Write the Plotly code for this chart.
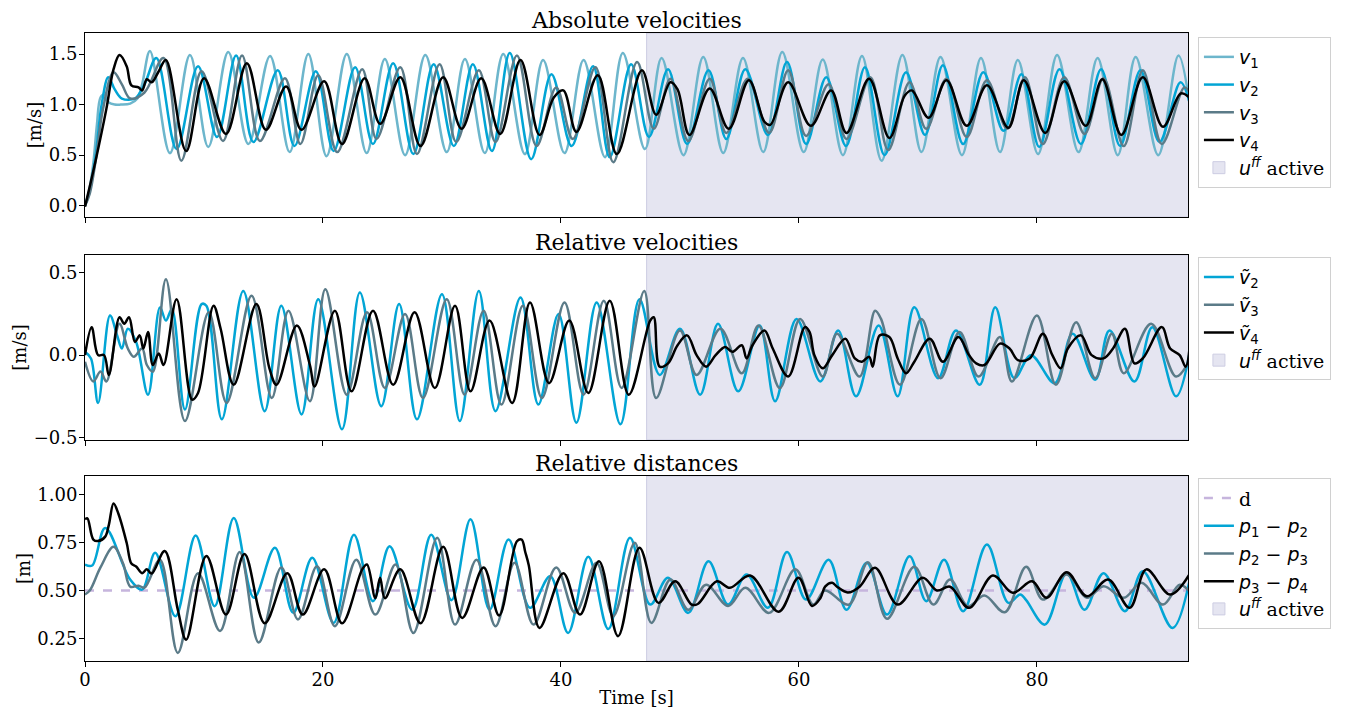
import plotly.graph_objects as go

# ---------------- data ----------------
FF_START = 47.2          # time at which u^ff becomes active [s]
T_END = 92.7             # end of the recorded time span [s]
X_TICKS = [0, 20, 40, 60, 80]

TITLES = ["Absolute velocities", "Relative velocities", "Relative distances"]
Y_LABELS = ["[m/s]", "[m/s]", "[m]"]

# Absolute velocities (t [s], v [m/s]) – turning points
V1 = [(0, 0.0), (0.35, 0.15), (0.7, 0.42), (1.0, 0.8), (1.3, 1.07), (1.6, 1.1), (2.0, 1.02), (2.5, 1.0),
      (3.0, 1.0), (3.8, 1.01), (4.4, 1.06), (4.8, 1.2), (5.46, 1.53),
      (7.14, 0.52), (8.82, 1.49), (10.36, 0.58), (12.04, 1.52), (13.73, 0.61), (15.55, 1.48), (17.2, 0.53),
      (18.77, 1.5), (20.3, 0.49), (22.0, 1.5), (23.67, 0.52), (25.2, 1.45), (26.9, 0.50), (28.6, 1.49),
      (30.4, 0.53), (31.93, 1.45), (33.6, 0.52), (35.15, 1.5), (36.97, 0.51), (38.5, 1.44), (40.3, 0.52),
      (41.9, 1.44), (43.7, 0.48), (45.2, 1.51), (47.06, 0.56), (48.46, 1.46), (50.3, 0.50), (51.96, 1.47),
      (53.64, 0.52), (55.3, 1.46), (57.0, 0.53), (58.6, 1.52), (60.4, 0.53), (62.0, 1.445), (63.7, 0.50),
      (65.3, 1.48), (66.95, 0.445), (68.7, 1.49), (70.3, 0.53), (71.9, 1.47), (73.7, 0.50), (75.3, 1.46),
      (76.9, 0.53), (78.4, 1.44), (80.1, 0.51), (81.7, 1.49), (83.5, 0.53), (85.1, 1.46), (86.8, 0.50),
      (88.3, 1.47), (90.2, 0.50), (91.9, 1.485), (92.9, 0.95)]
V2 = [(0, 0.0), (0.4, 0.15), (0.9, 0.5), (1.4, 1.0), (1.96, 1.27), (2.5, 1.15), (3.1, 1.06), (4.2, 1.06),
      (5.0, 1.2), (6.0, 1.46), (7.7, 0.56), (9.5, 1.38),
      (11.1, 0.68), (12.7, 1.485), (14.15, 0.63), (16.2, 1.34), (17.6, 0.59), (19.4, 1.33), (20.9, 0.54),
      (22.7, 1.37), (24.2, 0.61), (25.9, 1.41), (27.6, 0.51), (29.3, 1.40), (31.0, 0.59), (32.6, 1.40),
      (34.2, 0.54), (35.7, 1.51), (37.5, 0.46), (39.2, 1.30), (40.9, 0.59), (42.7, 1.38), (44.1, 0.48),
      (45.9, 1.40), (47.4, 0.68), (49.0, 1.35), (50.6, 0.61), (52.4, 1.34), (53.9, 0.66), (55.5, 1.35),
      (57.4, 0.70), (59.0, 1.42), (60.6, 0.61), (62.3, 1.27), (63.96, 0.59), (65.55, 1.37), (67.2, 0.50),
      (69.0, 1.32), (70.6, 0.70), (72.1, 1.39), (73.8, 0.61), (75.5, 1.32), (77.2, 0.74), (78.7, 1.30),
      (80.2, 0.58), (81.9, 1.35), (83.7, 0.61), (85.4, 1.35), (87.0, 0.59), (88.7, 1.34), (90.3, 0.63),
      (92.07, 1.22), (92.9, 0.99)]
V3 = [(0, 0.0), (0.4, 0.12), (0.9, 0.45), (1.5, 0.95), (2.4, 1.32), (3.1, 1.2), (3.8, 1.06), (5.0, 1.12),
      (6.6, 1.46), (8.1, 0.445), (9.8, 1.33),
      (11.6, 0.64), (13.2, 1.485), (14.7, 0.64), (16.8, 1.26), (18.1, 0.61), (19.6, 1.29), (21.2, 0.53),
      (23.3, 1.35), (24.5, 0.66), (26.5, 1.37), (27.9, 0.51), (29.8, 1.40), (31.2, 0.63), (33.1, 1.34),
      (34.5, 0.63), (36.3, 1.485), (37.95, 0.59), (39.6, 1.17), (41.0, 0.66), (42.9, 1.37), (44.4, 0.43),
      (46.4, 1.42), (47.8, 0.76), (49.2, 1.255), (50.7, 0.64), (52.5, 1.255), (53.9, 0.72), (55.7, 1.255),
      (57.5, 0.72), (59.1, 1.34), (60.6, 0.69), (62.5, 1.20), (64.0, 0.66), (66.0, 1.27), (67.5, 0.55),
      (69.3, 1.22), (70.7, 0.76), (72.4, 1.255), (74.1, 0.68), (75.8, 1.24), (77.5, 0.76), (79.0, 1.27),
      (80.5, 0.61), (82.3, 1.27), (84.0, 0.71), (85.6, 1.26), (87.3, 0.59), (88.9, 1.34), (90.5, 0.61),
      (92.4, 1.17), (92.9, 1.1)]
V4 = [(0, -0.01), (0.9, 0.45), (1.8, 0.96), (2.4, 1.35), (2.9, 1.49), (3.5, 1.38), (3.9, 1.19), (4.5, 1.17),
      (4.8, 1.14), (5.2, 1.25), (5.6, 1.22), (6.2, 1.33), (6.8, 1.44), (8.5, 0.54), (10.0, 1.26), (11.85, 0.71),
      (13.6, 1.41), (15.2, 0.75), (16.9, 1.18), (18.2, 0.75), (20.1, 1.23), (21.6, 0.61), (23.5, 1.26),
      (24.8, 0.81), (26.5, 1.27), (28.2, 0.59), (30.1, 1.27), (31.65, 0.76), (33.3, 1.26), (34.9, 0.71),
      (36.6, 1.44), (38.2, 0.70), (39.4, 1.07), (40.2, 1.14), (41.3, 0.73), (43.1, 1.29), (44.7, 0.51),
      (46.8, 1.34), (48.0, 0.90), (49.2, 1.22), (49.8, 1.15), (50.8, 0.70), (52.5, 1.16), (54.1, 0.76),
      (55.8, 1.24), (57.1, 0.83), (57.6, 0.80), (59.1, 1.22), (61.0, 0.79), (62.7, 1.14), (64.0, 0.72),
      (65.9, 1.255), (67.6, 0.67), (68.9, 1.09), (69.5, 1.14), (70.9, 0.87), (72.4, 1.24), (74.1, 0.79),
      (75.8, 1.19), (77.6, 0.77), (78.9, 1.24), (80.7, 0.72), (82.3, 1.23), (84.1, 0.79), (85.5, 1.25),
      (87.1, 0.70), (88.9, 1.27), (90.6, 0.78), (92.1, 1.11), (92.9, 1.06)]

# Relative velocities (t [s], v~ [m/s])
VT2 = [(0, 0.02), (0.5, -0.02), (1.1, -0.29), (2.1, 0.24), (2.7, 0.12), (3.1, 0.04), (3.6, 0.16), (4.3, 0.08),
       (5.3, -0.24), (6.3, 0.29), (6.8, 0.21), (7.3, 0.28), (8.4, -0.33), (9.8, 0.31), (10.2, 0.30),
       (11.5, -0.39), (13.3, 0.39), (15.1, -0.34), (16.5, 0.30), (18.2, -0.36), (19.6, 0.34), (21.6, -0.45),
       (23.1, 0.38), (24.9, -0.31), (26.4, 0.31), (27.9, -0.39), (30.0, 0.37), (31.5, -0.40), (33.1, 0.39),
       (34.5, -0.34), (36.6, 0.35), (38.1, -0.30), (39.8, 0.25), (41.3, -0.41), (43.0, 0.32), (45.0, -0.42),
       (46.6, 0.34), (48.3, -0.12), (50.0, 0.16), (51.7, -0.24), (53.2, 0.19), (54.9, -0.22), (56.7, 0.18),
       (58.0, -0.28), (59.8, 0.22), (61.8, -0.16), (63.3, 0.15), (64.8, -0.25), (66.7, 0.18), (68.3, -0.25),
       (69.7, 0.29), (71.7, -0.14), (73.2, 0.15), (75.2, -0.18), (76.5, 0.29), (78.1, -0.14), (79.5, 0.0),
       (81.5, -0.17), (83.0, 0.13), (84.9, -0.15), (86.1, 0.15), (88.2, -0.16), (89.7, 0.17), (91.7, -0.25),
       (92.9, 0.04)]
VT3 = [(0, -0.04), (0.7, -0.16), (1.3, -0.10), (1.8, -0.16), (2.9, 0.19), (3.6, 0.04), (4.1, -0.01),
       (4.8, 0.04), (5.2, -0.06), (5.7, -0.10), (6.8, 0.46), (8.4, -0.40), (10.4, 0.26), (11.9, -0.29),
       (14.0, 0.36), (15.7, -0.26), (17.1, 0.27), (18.9, -0.28), (20.2, 0.40), (22.0, -0.24), (23.7, 0.26),
       (25.2, -0.20), (26.9, 0.25), (28.4, -0.26), (30.4, 0.34), (31.9, -0.24), (33.5, 0.27), (35.0, -0.30),
       (36.8, 0.30), (38.4, -0.26), (40.3, 0.32), (41.9, -0.24), (43.6, 0.33), (45.1, -0.20), (47.0, 0.39),
       (48.0, -0.26), (50.0, 0.15), (51.4, -0.12), (53.4, 0.16), (55.2, -0.11), (56.6, 0.18), (58.4, -0.20),
       (60.1, 0.22), (62.0, -0.13), (63.2, 0.13), (65.1, -0.13), (66.4, 0.27), (66.9, 0.22), (68.5, -0.18),
       (70.3, 0.22), (71.9, -0.14), (73.5, 0.14), (75.1, -0.13), (76.9, 0.11), (77.9, -0.16), (80.0, 0.24),
       (81.6, -0.18), (83.3, 0.20), (84.9, -0.14), (86.3, 0.13), (87.3, -0.11), (89.6, 0.19), (91.7, -0.13),
       (92.9, -0.02)]
VT4 = [(0, 0.0), (0.56, 0.17), (1.1, 0.0), (1.6, 0.0), (2.0, -0.12), (2.9, 0.23), (3.3, 0.19), (3.7, 0.23),
       (4.2, 0.08), (4.6, 0.12), (4.9, 0.04), (5.3, 0.14), (5.7, -0.06), (6.2, 0.01), (6.6, -0.06), (7.7, 0.34),
       (9.0, -0.27), (9.5, -0.23), (10.8, 0.30), (11.4, 0.16), (12.5, -0.18), (14.4, 0.31), (15.5, -0.08),
       (16.1, -0.18), (17.8, 0.18), (18.9, -0.06), (19.3, -0.19), (21.0, 0.27), (22.4, -0.22), (24.2, 0.27),
       (25.9, -0.18), (27.7, 0.26), (29.4, -0.2), (31.1, 0.30), (32.4, -0.22), (34.0, 0.21), (35.9, -0.29),
       (37.4, 0.32), (39.0, -0.17), (40.7, 0.21), (42.3, -0.23), (44.1, 0.33), (45.7, -0.24), (47.5, 0.21),
       (47.8, 0.23), (48.3, -0.07), (49.0, -0.05), (49.8, 0.06), (50.6, 0.12), (51.4, 0.0), (52.2, -0.07),
       (53.0, 0.0), (53.8, 0.05), (54.4, 0.02), (55.2, 0.06), (55.6, -0.02), (56.1, 0.06), (57.1, 0.15),
       (57.8, 0.04), (59.1, -0.13), (60.5, 0.17), (60.9, 0.14), (61.3, 0.0), (62.0, -0.08), (62.8, 0.0),
       (63.9, 0.10), (64.7, -0.02), (65.3, -0.04), (65.9, -0.01), (66.2, -0.07), (66.8, 0.12), (67.6, 0.11),
       (68.3, -0.02), (69.0, -0.11), (69.7, -0.04), (71.0, 0.10), (72.1, -0.04), (73.4, 0.11), (74.3, 0.0),
       (74.9, -0.05), (75.6, -0.06), (76.9, 0.07), (77.7, 0.04), (78.4, -0.03), (79.4, -0.02), (80.5, 0.13),
       (81.3, 0.0), (82.0, -0.08), (82.6, 0.04), (83.7, 0.12), (84.6, 0.0), (85.6, -0.02), (86.4, 0.04),
       (87.4, 0.16), (88.2, -0.05), (88.9, -0.02), (90.5, 0.17), (91.2, 0.04), (92.0, 0.0), (92.5, -0.07),
       (92.9, 0.10)]

# Relative distances (t [s], distance [m])
D_REF = [(0, 0.5), (92.9, 0.5)]
P12 = [(0, 0.635), (0.6, 0.63), (1.7, 0.825), (3.8, 0.557), (4.8, 0.505), (5.9, 0.696), (7.6, 0.367),
       (9.3, 0.786), (10.9, 0.419), (12.5, 0.877), (14.2, 0.462), (15.96, 0.722), (17.5, 0.384), (19.1, 0.67),
       (20.9, 0.332), (22.6, 0.79), (24.2, 0.445), (25.6, 0.73), (27.5, 0.40), (29.1, 0.79), (30.8, 0.45),
       (32.4, 0.87), (34.0, 0.40), (35.6, 0.765), (37.4, 0.41), (39.1, 0.574), (40.6, 0.28), (42.3, 0.675),
       (43.98, 0.30), (45.8, 0.774), (47.5, 0.427), (49.0, 0.566), (50.7, 0.384), (52.4, 0.652),
       (54.05, 0.427), (55.6, 0.583), (57.4, 0.41), (59.0, 0.70), (60.6, 0.453), (62.5, 0.66), (64.0, 0.40),
       (65.7, 0.644), (67.4, 0.375), (69.3, 0.678), (70.7, 0.445), (72.2, 0.66), (73.8, 0.393), (75.8, 0.739),
       (77.6, 0.436), (78.6, 0.48), (79.1, 0.45), (80.67, 0.323), (82.5, 0.59), (84.0, 0.40), (85.6, 0.59),
       (87.4, 0.393), (88.9, 0.60), (91.4, 0.306), (92.9, 0.574)]
P23 = [(0, 0.48), (0.4, 0.50), (1.3, 0.62), (2.4, 0.727), (3.2, 0.64), (3.8, 0.52), (4.5, 0.525), (5.0, 0.515),
       (6.3, 0.66), (7.8, 0.176), (9.5, 0.59), (11.35, 0.29), (13.0, 0.70), (14.6, 0.23), (16.5, 0.62),
       (17.9, 0.35), (19.5, 0.626), (21.0, 0.315), (22.8, 0.66), (24.4, 0.375), (26.1, 0.635), (27.6, 0.28),
       (29.6, 0.774), (31.1, 0.323), (32.9, 0.66), (34.5, 0.315), (36.1, 0.644), (37.7, 0.323), (39.6, 0.62),
       (41.2, 0.384), (42.99, 0.644), (44.4, 0.367), (46.2, 0.748), (47.6, 0.332), (49.2, 0.557), (50.7, 0.40),
       (52.2, 0.53), (54.05, 0.42), (55.5, 0.514), (57.5, 0.384), (59.7, 0.61), (61.2, 0.427), (62.2, 0.50),
       (64.2, 0.427), (65.8, 0.647), (67.4, 0.353), (69.7, 0.623), (71.3, 0.427), (72.7, 0.557), (74.2, 0.419),
       (75.6, 0.474), (77.3, 0.387), (79.1, 0.623), (80.5, 0.453), (82.5, 0.583), (84.2, 0.462), (85.6, 0.522),
       (87.3, 0.462), (88.8, 0.54), (90.6, 0.427), (92.0, 0.53), (92.9, 0.49)]
P34 = [(0, 0.87), (0.2, 0.875), (0.7, 0.765), (1.1, 0.757), (1.7, 0.78), (2.0, 0.84), (2.4, 0.952), (2.8, 0.90),
       (3.5, 0.748), (3.9, 0.64), (4.3, 0.625), (4.8, 0.59), (5.2, 0.61), (5.6, 0.588), (6.7, 0.705), (7.8, 0.40),
       (8.5, 0.245), (10.2, 0.68), (11.85, 0.375), (13.4, 0.69), (15.1, 0.33), (17.0, 0.59), (18.3, 0.375),
       (20.1, 0.61), (21.6, 0.33), (23.3, 0.61), (23.7, 0.635), (24.4, 0.46), (24.8, 0.566), (25.2, 0.46),
       (26.5, 0.61), (28.2, 0.33), (30.1, 0.727), (31.7, 0.358), (33.5, 0.62), (34.8, 0.37), (36.3, 0.756),
       (36.7, 0.765), (37.0, 0.70), (37.3, 0.63), (38.2, 0.306), (40.2, 0.59), (41.6, 0.375), (43.2, 0.652),
       (44.8, 0.263), (46.6, 0.722), (48.2, 0.436), (49.6, 0.548), (50.98, 0.427), (51.5, 0.43), (53.1, 0.548),
       (54.2, 0.514), (55.9, 0.578), (58.3, 0.39), (59.97, 0.566), (61.1, 0.42), (61.8, 0.46), (62.2, 0.52),
       (62.8, 0.54), (63.2, 0.52), (64.1, 0.49), (65.1, 0.52), (66.4, 0.618), (68.3, 0.427), (70.4, 0.566),
       (71.6, 0.50), (72.7, 0.52), (74.3, 0.41), (76.3, 0.578), (77.97, 0.488), (79.6, 0.548), (80.8, 0.462),
       (82.5, 0.595), (84.2, 0.47), (85.99, 0.557), (87.8, 0.41), (89.2, 0.61), (91.2, 0.479), (92.9, 0.592)]

# ---------------- styling ----------------
C_V1 = "#6db6cc"
C_V2 = "#02a5d5"
C_V3 = "#5b7b88"
C_V4 = "#000000"
C_D = "#c6b5dd"
C_FF = "#e5e5f1"
C_FF_EDGE = "#cdcde2"
SERIF = "DejaVu Serif, serif"
SANS = "DejaVu Sans"
LW = 2.5

DOMAINS = [[0.707, 1.0], [0.352, 0.6465], [0.0, 0.2946]]
Y_RANGES = [[-0.112, 1.708], [-0.515, 0.608], [0.134, 1.095]]
Y_TICKS = [[0.0, 0.5, 1.0, 1.5], [-0.5, 0.0, 0.5], [0.25, 0.5, 0.75, 1.0]]
Y_FMT = [".1f", ".1f", ".2f"]
LEGEND_Y = [0.9936, 0.643, 0.291]


def mlab(sym, sub=None, sup=None):
    s = f'<span style="font-family:{SANS}"><i>{sym}</i>'
    if sub:
        s += f"<sub>{sub}</sub>"
    if sup:
        s += f"<sup><i>{sup}</i></sup>"
    return s + "</span>"


fig = go.Figure()


def add(pts, row, name, color, legend, rank, dash="solid", width=LW):
    suffix = "" if row == 1 else str(row)
    fig.add_trace(go.Scatter(
        x=[p[0] for p in pts], y=[p[1] for p in pts], mode="lines", name=name,
        line=dict(color=color, width=width, shape="spline", smoothing=1.0, dash=dash),
        xaxis="x" + suffix, yaxis="y" + suffix, legend=legend, legendrank=rank,
        hoverinfo="skip"))


add(V1, 1, mlab("v", "1"), C_V1, "legend", 1)
add(V2, 1, mlab("v", "2"), C_V2, "legend", 2)
add(V3, 1, mlab("v", "3"), C_V3, "legend", 3)
add(V4, 1, mlab("v", "4"), C_V4, "legend", 4)

add(VT2, 2, mlab("ṽ", "2"), C_V2, "legend2", 1)
add(VT3, 2, mlab("ṽ", "3"), C_V3, "legend2", 2)
add(VT4, 2, mlab("ṽ", "4"), C_V4, "legend2", 3)

add(D_REF, 3, "d", C_D, "legend3", 1, dash="dash")
add(P12, 3, mlab("p", "1") + " − " + mlab("p", "2"), C_V2, "legend3", 2)
add(P23, 3, mlab("p", "2") + " − " + mlab("p", "3"), C_V3, "legend3", 3)
add(P34, 3, mlab("p", "3") + " − " + mlab("p", "4"), C_V4, "legend3", 4)

ff_name = mlab("u", sup="ff") + " active"
for i, leg in enumerate(["legend", "legend2", "legend3"]):
    suffix = "" if i == 0 else str(i + 1)
    fig.add_shape(type="rect", xref="x" + suffix, yref=f"y{suffix} domain",
                  x0=FF_START, x1=T_END + 1, y0=0, y1=1,
                  fillcolor=C_FF, line=dict(color=C_FF_EDGE, width=1), layer="below",
                  showlegend=True, legend=leg, name=ff_name, legendrank=100)

axis_common = dict(showline=True, linecolor="black", linewidth=1, mirror=True, ticks="outside",
                   ticklen=5, tickwidth=1, tickcolor="black", showgrid=False, zeroline=False,
                   tickfont=dict(family=SERIF, size=18, color="black"))

# page is drawn with an 8 px body margin, so the figure is 8 px smaller each way
layout = dict(
    width=1340, height=701, margin=dict(l=77, r=160, t=25, b=48),
    paper_bgcolor="white", plot_bgcolor="white",
    font=dict(family=SERIF, size=18, color="black"),
    showlegend=True, annotations=[],
)
for i in range(3):
    suffix = "" if i == 0 else str(i + 1)
    layout["xaxis" + suffix] = dict(axis_common, range=[0, T_END], tickvals=X_TICKS,
                                    showticklabels=(i == 2), anchor="y" + suffix,
                                    matches=None if i == 0 else "x", ticklabelstandoff=-3)
    layout["yaxis" + suffix] = dict(axis_common, domain=DOMAINS[i], range=Y_RANGES[i],
                                    tickvals=Y_TICKS[i], tickformat=Y_FMT[i], anchor="x" + suffix,
                                    ticklabelstandoff=-2,
                                    title=dict(text=Y_LABELS[i], font=dict(family=SERIF, size=18),
                                               standoff=2),
                                    automargin=False)
    layout["legend" + ("" if i == 0 else str(i + 1))] = dict(
        x=1.009, xanchor="left", y=LEGEND_Y[i], yanchor="top",
        bgcolor="white", bordercolor="#d0d0d0", borderwidth=1,
        font=dict(family=SERIF, size=19, color="black"), itemwidth=30, tracegroupgap=0)
    layout["annotations"].append(dict(
        text=TITLES[i], xref="paper", yref="paper", x=0.5, y=DOMAINS[i][1], xanchor="center",
        yanchor="bottom", yshift=-2, showarrow=False, font=dict(family=SERIF, size=22, color="black")))

layout["xaxis3"]["title"] = dict(text="Time [s]", font=dict(family=SERIF, size=18), standoff=2)
layout["xaxis3"]["automargin"] = False
fig.update_layout(**layout)

fig.write_html("out.html")
